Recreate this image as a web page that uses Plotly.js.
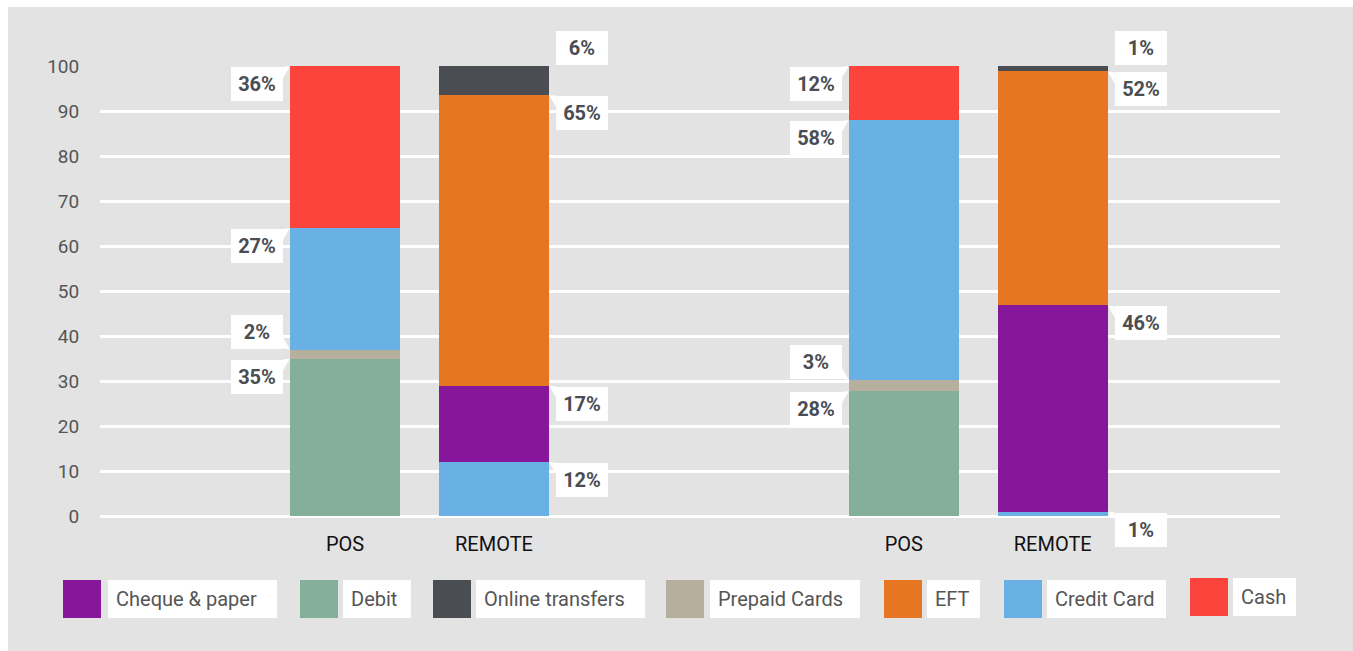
<!DOCTYPE html>
<html>
<head>
<meta charset="utf-8">
<script src="https://cdn.plot.ly/plotly-3.0.1.min.js"></script>
<style>
  html, body { margin: 0; padding: 0; background: #ffffff; }
  #chart { position: absolute; left: 8px; top: 7px; width: 1345px; height: 644px; }
</style>
</head>
<body>
<div id="chart"></div>
<script>
// ---------- DATA ----------
const categories = ['POS', 'REMOTE', 'POS', 'REMOTE'];
const groupOf = [0, 0, 1, 1];

// stacked bottom-to-top in this trace order
const debit        = [35,   null, 27.8, null];
const prepaid      = [2,    null, 2.5,  null];
const creditCard   = [27,   12,   57.7, 1];
const cheque       = [null, 17,   null, 45.8];
const eft          = [null, 64.6, null, 52];
const online       = [null, 6.4,  null, 1.2];
const cash         = [36,   null, 12,   null];

const debitLabels   = ['35%', null, '28%', null];
const prepaidLabels = ['2%',  null, '3%',  null];
const creditLabels  = ['27%', '12%', '58%', '1%'];
const chequeLabels  = [null, '17%', null, '46%'];
const eftLabels     = [null, '65%', null, '52%'];
const onlineLabels  = [null, '6%',  null, '1%'];
const cashLabels    = ['36%', null, '12%', null];

const seriesNames = ['Debit', 'Prepaid Cards', 'Credit Card', 'Cheque & paper', 'EFT', 'Online transfers', 'Cash'];
const seriesValues = [debit, prepaid, creditCard, cheque, eft, online, cash];
const seriesLabels = [debitLabels, prepaidLabels, creditLabels, chequeLabels, eftLabels, onlineLabels, cashLabels];
const legendOrder = ['Cheque & paper', 'Debit', 'Online transfers', 'Prepaid Cards', 'EFT', 'Credit Card', 'Cash'];

// ---------- STYLE ----------
const colors = {
  'Debit': '#84b09a',
  'Prepaid Cards': '#b6af9d',
  'Credit Card': '#69b1e4',
  'Cheque & paper': '#86169a',
  'EFT': '#e67621',
  'Online transfers': '#4a4d52',
  'Cash': '#fb443b'
};
const labelAboveSeries = ['Prepaid Cards', 'Online transfers'];
const GROUP_STEP = 3.75;
const BAR_W = 0.738;
const FONT = 'Roboto, "Open Sans", sans-serif';
const BG = '#e3e3e3';

const xPos = categories.map((c, i) => groupOf[i] * GROUP_STEP + (i % 2));

// ---------- TRACES ----------
const traces = seriesNames.map((name, s) => ({
  type: 'bar',
  name: name,
  x: xPos,
  y: seriesValues[s],
  width: BAR_W,
  marker: { color: colors[name], line: { width: 0 } },
  hoverinfo: 'name+y',
  showlegend: false
}));

// ---------- LABELS ----------
const annotations = [];
const shapes = [];
const cum = categories.map(() => 0);
seriesNames.forEach((name, s) => {
  seriesValues[s].forEach((v, i) => {
    if (v === null || v === undefined) return;
    const top = cum[i] + v;
    cum[i] = top;
    const lab = seriesLabels[s][i];
    if (!lab) return;
    const leftSide = (i % 2) === 0;
    const above = labelAboveSeries.includes(name);
    const edge = leftSide ? xPos[i] - BAR_W / 2 : xPos[i] + BAR_W / 2;
    const gap = 7;
    annotations.push({
      xref: 'x', yref: 'y', x: edge, y: top,
      xanchor: leftSide ? 'right' : 'left',
      yanchor: above ? 'bottom' : 'top',
      xshift: leftSide ? -gap : gap,
      yshift: above ? 1 : -1,
      text: '<b>' + lab + '</b>',
      showarrow: false,
      bgcolor: '#ffffff', borderwidth: 0, borderpad: 5,
      width: 42, height: 24, align: 'center', valign: 'middle',
      font: { family: FONT, size: 20, color: '#4a4d52' }
    });
    const sx = leftSide ? -1 : 1;
    const sy = above ? 1 : -1;
    shapes.push({
      type: 'path', layer: 'above',
      xref: 'x', xsizemode: 'pixel', xanchor: edge,
      yref: 'y', ysizemode: 'pixel', yanchor: top,
      path: 'M0,0 L' + (sx * gap) + ',' + (sy * 1) + ' L' + (sx * gap) + ',' + (sy * 12) + ' Z',
      fillcolor: '#ffffff', line: { width: 0 }
    });
  });
});

// ---------- CUSTOM LEGEND ----------
const plotLeftPx = 100, plotWidthPx = 1180, plotBottomPx = 516, plotHeightPx = 450;
const px2x = p => (p - plotLeftPx) / plotWidthPx;
const px2y = p => (plotBottomPx - p) / plotHeightPx;
const legendSwatchX = [63, 300, 433, 666, 884, 1004, 1190];
const legendBoxX    = [[108, 277], [343, 411], [476, 645], [710, 860], [927, 980], [1047, 1166], [1233, 1296]];
const legendTop     = [580, 580, 580, 580, 580, 580, 578];
legendOrder.forEach((name, k) => {
  const t = legendTop[k];
  shapes.push({
    type: 'rect', xref: 'paper', yref: 'paper', layer: 'above',
    x0: px2x(legendSwatchX[k]), x1: px2x(legendSwatchX[k] + 38),
    y0: px2y(t + 38), y1: px2y(t),
    fillcolor: colors[name], line: { width: 0 }
  });
  const bx = legendBoxX[k];
  annotations.push({
    xref: 'paper', yref: 'paper',
    x: px2x(bx[0]), y: px2y(t),
    xanchor: 'left', yanchor: 'top',
    text: name, showarrow: false,
    bgcolor: '#ffffff', borderwidth: 0, borderpad: 8,
    width: (bx[1] - bx[0]) - 16, height: 38 - 16,
    align: 'left', valign: 'middle',
    font: { family: FONT, size: 20, color: '#555555' }
  });
});

// ---------- LAYOUT ----------
const layout = {
  width: 1345, height: 644,
  margin: { l: 92, r: 73, t: 59, b: 135, pad: 0 },
  paper_bgcolor: BG, plot_bgcolor: BG,
  barmode: 'stack',
  bargap: 0,
  showlegend: false,
  font: { family: FONT },
  xaxis: {
    range: [-245 / 149, 935 / 149],
    tickmode: 'array', tickvals: xPos, ticktext: categories,
    showgrid: false, zeroline: false, showline: false,
    ticks: 'outside', ticklen: 10, tickcolor: 'rgba(0,0,0,0)',
    tickfont: { family: FONT, size: 20, color: '#111111' },
    fixedrange: true
  },
  yaxis: {
    range: [0, 100],
    tickmode: 'linear', tick0: 0, dtick: 10,
    showgrid: true, gridcolor: '#ffffff', gridwidth: 3,
    zeroline: true, zerolinecolor: '#ffffff', zerolinewidth: 3,
    showline: false,
    ticks: 'outside', ticklen: 16, tickcolor: 'rgba(0,0,0,0)',
    tickfont: { family: FONT, size: 19, color: '#555555' },
    fixedrange: true
  },
  annotations: annotations,
  shapes: shapes
};

Plotly.newPlot('chart', traces, layout, { displayModeBar: false, staticPlot: true });
</script>
</body>
</html>
